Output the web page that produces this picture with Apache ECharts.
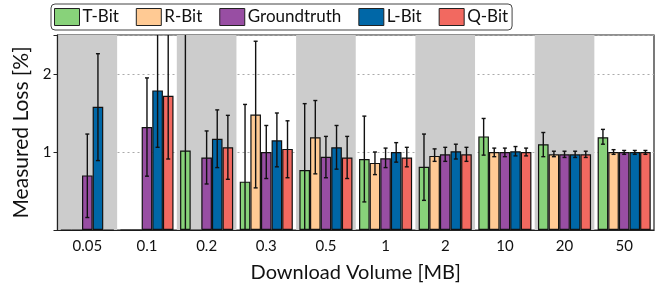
<!DOCTYPE html>
<html>
<head>
<meta charset="utf-8">
<script src="https://cdn.jsdelivr.net/npm/echarts@6/dist/echarts.min.js"></script>
<style>
  html, body { margin: 0; padding: 0; background: #fff; }
  #chart { width: 672px; height: 288px; }
</style>
</head>
<body>
<div id="chart"></div>
<script>
const categories = ['0.05', '0.1', '0.2', '0.3', '0.5', '1', '2', '10', '20', '50']
const seriesNames = ['T-Bit', 'R-Bit', 'Groundtruth', 'L-Bit', 'Q-Bit']

const tBit = [0, 0, 1.02, 0.62, 0.77, 0.91, 0.81, 1.20, 1.10, 1.19]
const tLow = [null, null, -0.60, -0.37, -0.08, 0.36, 0.38, 0.96, 0.94, 1.10]
const tHigh = [null, null, 2.64, 1.61, 1.62, 1.46, 1.23, 1.43, 1.25, 1.29]

const rBit = [0, 0, 0, 1.48, 1.19, 0.86, 0.95, 1.00, 0.97, 1.00]
const rLow = [null, null, null, 0.54, 0.72, 0.71, 0.88, 0.94, 0.94, 0.97]
const rHigh = [null, null, null, 2.42, 1.66, 1.00, 1.04, 1.05, 1.01, 1.03]

const gt = [0.70, 1.32, 0.93, 1.00, 0.94, 0.92, 0.97, 1.00, 0.97, 1.00]
const gtLow = [0.16, 0.69, 0.59, 0.66, 0.67, 0.80, 0.88, 0.94, 0.93, 0.97]
const gtHigh = [1.23, 1.95, 1.27, 1.34, 1.20, 1.05, 1.06, 1.05, 1.01, 1.02]

const lBit = [1.58, 1.79, 1.17, 1.15, 1.06, 1.00, 1.01, 1.01, 0.97, 1.00]
const lLow = [0.89, 1.06, 0.80, 0.81, 0.78, 0.87, 0.91, 0.95, 0.93, 0.97]
const lHigh = [2.26, 2.53, 1.54, 1.50, 1.34, 1.12, 1.10, 1.07, 1.01, 1.02]

const qBit = [0, 1.72, 1.06, 1.04, 0.93, 0.93, 0.97, 1.00, 0.97, 1.00]
const qLow = [null, 0.91, 0.65, 0.67, 0.66, 0.81, 0.88, 0.95, 0.93, 0.97]
const qHigh = [null, 2.53, 1.47, 1.40, 1.20, 1.06, 1.06, 1.05, 1.01, 1.02]

const yTicks = [1, 2]

const colors = ['#88d27a', '#ffca94', '#984ea3', '#0067a7', '#f26960']
const values = [tBit, rBit, gt, lBit, qBit]
const lows = [tLow, rLow, gtLow, lLow, qLow]
const highs = [tHigh, rHigh, gtHigh, lHigh, qHigh]

const FONT = 'Lato'
const GAP = 0.11

function errorSeries(idx) {
  const data = []
  categories.forEach((c, i) => {
    if (lows[idx][i] != null) data.push([i, lows[idx][i], highs[idx][i]])
  })
  return {
    type: 'custom',
    name: seriesNames[idx] + ' err',
    clip: true,
    z: 10,
    silent: true,
    data: data,
    renderItem: (params, api) => {
      const band = api.size([1, 0])[0]
      const bw = band * (1 - GAP) / 5
      const cx = api.coord([api.value(0), 0])[0] + (idx - 2) * bw
      const yLo = api.coord([api.value(0), api.value(1)])[1]
      const yHi = api.coord([api.value(0), api.value(2)])[1]
      const cap = 2
      const style = { stroke: '#111', lineWidth: 1.4 }
      return {
        type: 'group',
        children: [
          { type: 'line', shape: { x1: cx, y1: yLo, x2: cx, y2: yHi }, style },
          { type: 'line', shape: { x1: cx - cap, y1: yLo, x2: cx + cap, y2: yLo }, style },
          { type: 'line', shape: { x1: cx - cap, y1: yHi, x2: cx + cap, y2: yHi }, style },
        ],
      }
    },
  }
}

const chart = echarts.init(document.getElementById('chart'))
chart.setOption({
  animation: false,
  textStyle: { fontFamily: FONT },
  legend: {
    data: seriesNames,
    icon: 'rect',
    left: 51,
    top: 4,
    padding: [4, 4, 4, 3],
    itemWidth: 25,
    itemHeight: 17,
    itemGap: 17,
    borderColor: '#444',
    borderWidth: 1,
    borderRadius: 4,
    textStyle: { fontFamily: FONT, fontSize: 17, color: '#111', padding: [0, 0, 0, -2] },
    itemStyle: { borderColor: '#222', borderWidth: 1 },
  },
  grid: {
    left: 57.5,
    right: 18,
    top: 35,
    bottom: 58,
    show: true,
    borderColor: '#222',
    borderWidth: 1.2,
  },
  xAxis: {
    type: 'category',
    data: categories,
    name: 'Download Volume [MB]',
    nameLocation: 'middle',
    nameGap: 33,
    nameTextStyle: { fontFamily: FONT, fontSize: 20, color: '#111' },
    axisLine: { lineStyle: { color: '#222', width: 1.2 } },
    axisTick: { alignWithLabel: true, length: 4, lineStyle: { color: '#222' } },
    axisLabel: { fontFamily: FONT, fontSize: 15, color: '#111', margin: 9 },
    splitArea: { show: true, areaStyle: { color: ['#cccccc', 'rgba(255,255,255,0)'] } },
  },
  yAxis: {
    type: 'value',
    min: 0,
    max: 2.5,
    interval: 1,
    name: 'Measured Loss [%]',
    nameLocation: 'middle',
    nameGap: 22,
    nameTextStyle: { fontFamily: FONT, fontSize: 21, color: '#111' },
    axisLine: { show: true, lineStyle: { color: '#222', width: 1.2 } },
    axisTick: { show: true, length: 4, lineStyle: { color: '#222' } },
    axisLabel: {
      fontFamily: FONT, fontSize: 15, color: '#111', margin: 6,
      formatter: v => (yTicks.includes(v) ? String(v) : ''),
    },
    splitLine: { show: true, lineStyle: { color: '#aaa', type: [2, 3], width: 1 } },
  },
  series: [
    ...seriesNames.map((name, i) => ({
      name: name,
      type: 'bar',
      data: values[i],
      barGap: '0%',
      barCategoryGap: (GAP * 100) + '%',
      itemStyle: { color: colors[i], borderColor: '#111', borderWidth: 1.2 },
    })),
    ...seriesNames.map((n, i) => errorSeries(i)),
  ],
})
</script>
</body>
</html>
